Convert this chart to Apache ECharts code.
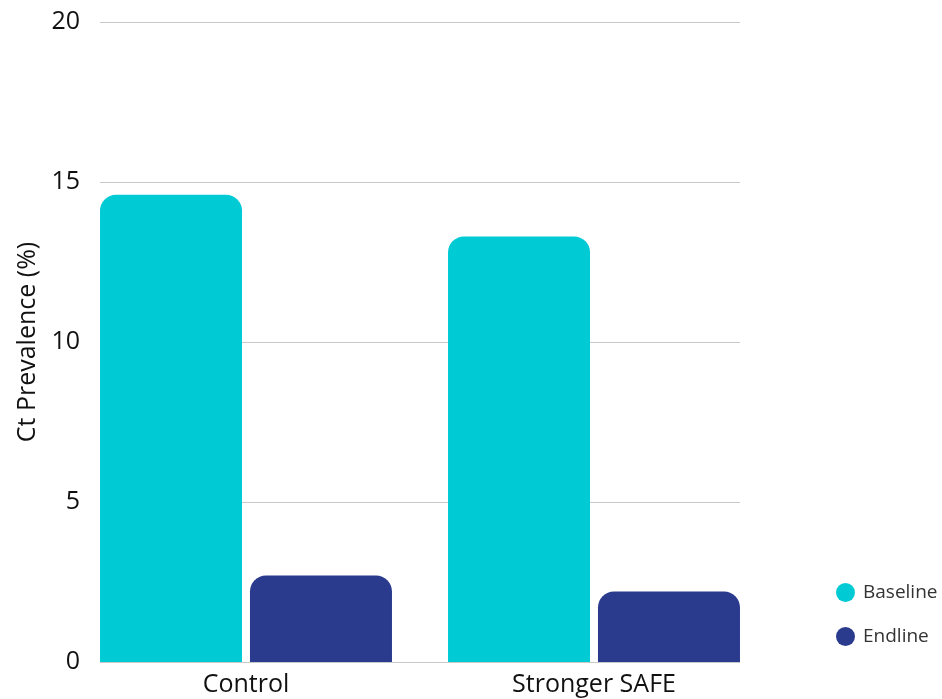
<!DOCTYPE html>
<html><head><meta charset="utf-8">
<script src="https://cdn.jsdelivr.net/npm/echarts@6/dist/echarts.min.js"></script>
<style>html,body{margin:0;padding:0;background:#fff}#c{width:942px;height:699px}</style>
</head><body><div id="c"></div>
<script>
const categories = ["Control", "Stronger SAFE"];
const baseline = [14.6, 13.3];
const endline = [2.7, 2.2];
const yTicks = [0, 5, 10, 15, 20];

const chart = echarts.init(document.getElementById('c'), null, {renderer: 'canvas'});
const font = '"Open Sans", sans-serif';
chart.setOption({
  animation: false,
  backgroundColor: '#fff',
  grid: [
    {left: 72, right: 174, top: 22, bottom: 37},
    {left: 100, right: 202, top: 22, bottom: 37}
  ],
  legend: {
    orient: 'vertical', left: 831, top: 578,
    icon: 'circle', itemWidth: 19, itemHeight: 19, itemGap: 25,
    textStyle: {fontFamily: font, fontSize: 19, color: '#333', padding: [0, 0, 0, 3]},
    data: ['Baseline', 'Endline']
  },
  xAxis: [
    {type: 'category', gridIndex: 0, data: categories,
     axisLine: {show: false}, axisTick: {show: false},
     axisLabel: {fontFamily: font, fontSize: 25, color: '#111', margin: 10}},
    {type: 'category', gridIndex: 1, data: categories, show: false}
  ],
  yAxis: [
    {type: 'value', gridIndex: 0, min: 0, max: 20, interval: 5, show: false, splitLine: {show: false}},
    {type: 'value', gridIndex: 1, min: 0, max: 20, interval: 5,
     name: 'Ct Prevalence (%)', nameLocation: 'middle', nameGap: 60, nameRotate: 90,
     nameTextStyle: {fontFamily: font, fontSize: 25, color: '#111'},
     axisLine: {show: false}, axisTick: {show: false},
     axisLabel: {fontFamily: font, fontSize: 25, color: '#111', margin: 20,
       formatter: v => yTicks.includes(v) ? String(v) : ''},
     splitLine: {lineStyle: {color: '#c8c8c8', width: 1}}}
  ],
  series: [
    {name: 'Baseline', type: 'bar', xAxisIndex: 0, yAxisIndex: 0, data: baseline,
     barWidth: 142, barGap: '5.6%', z: 3,
     itemStyle: {color: '#00CBD4', borderRadius: [16, 16, 0, 0]}},
    {name: 'Endline', type: 'bar', xAxisIndex: 0, yAxisIndex: 0, data: endline,
     barWidth: 142, barGap: '5.6%', z: 3,
     itemStyle: {color: '#2A3A8C', borderRadius: [16, 16, 0, 0]}}
  ]
});
</script></body></html>
